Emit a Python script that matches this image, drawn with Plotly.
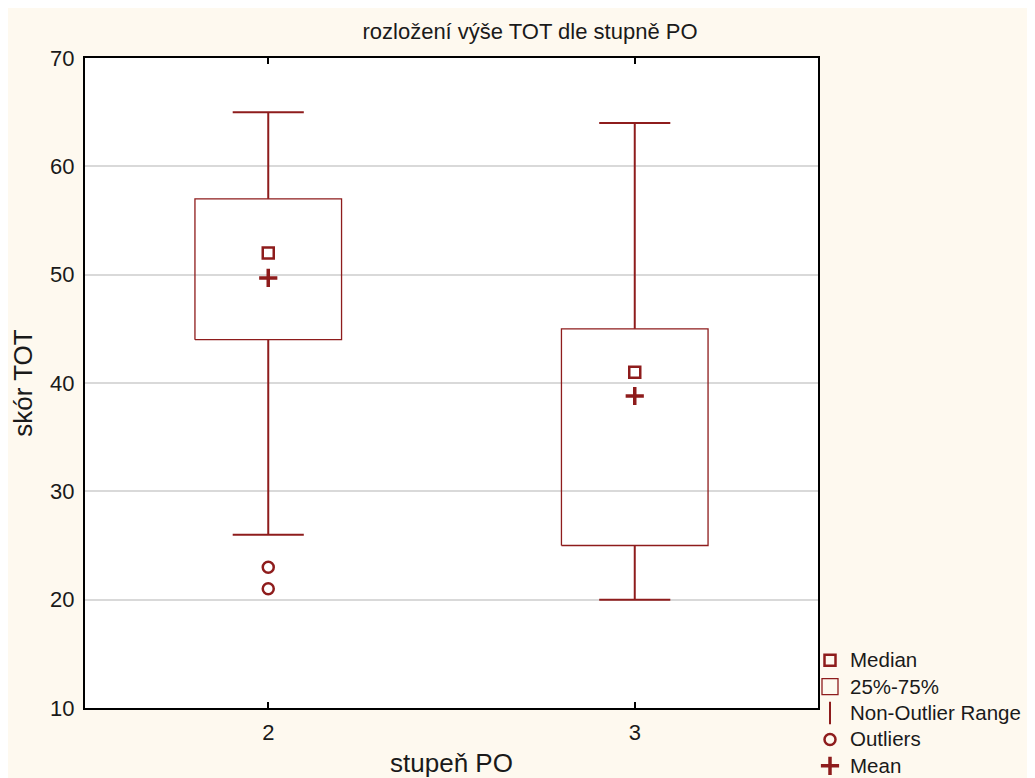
import plotly.graph_objects as go

# ---- data ----
categories = [2, 3]
q1 = [44, 25]
q3 = [57, 45]
medians = [52, 41]
means = [49.7, 38.8]
whisker_low = [26, 20]
whisker_high = [65, 64]
outlier_x = [2, 2]
outlier_y = [23, 21]
tick_labels = ["2", "3"]
legend_names = ["Median", "25%-75%", "Non-Outlier Range", "Outliers", "Mean"]

# ---- styles ----
RED = "#8E1C1C"
BOX_HALF = 0.2
CAP_HALF = 0.097


def big(t):
    return f"<span style='font-size:20.5px'>{t}</span>"


fig = go.Figure()

# boxes
bx, by = [], []
for c, a, b in zip(categories, q1, q3):
    bx += [c - BOX_HALF, c + BOX_HALF, c + BOX_HALF, c - BOX_HALF, c - BOX_HALF, None]
    by += [a, a, b, b, a, None]
fig.add_trace(go.Scatter(x=bx, y=by, mode="lines", line=dict(color=RED, width=1.3),
                         showlegend=False, hoverinfo="skip"))

# whiskers
wx, wy = [], []
for c, a, b, lo, hi in zip(categories, q1, q3, whisker_low, whisker_high):
    wx += [c, c, None, c, c, None, c - CAP_HALF, c + CAP_HALF, None, c - CAP_HALF, c + CAP_HALF, None]
    wy += [b, hi, None, a, lo, None, hi, hi, None, lo, lo, None]
fig.add_trace(go.Scatter(x=wx, y=wy, mode="lines", line=dict(color=RED, width=2),
                         showlegend=False, hoverinfo="skip"))

# medians
fig.add_trace(go.Scatter(x=categories, y=medians, mode="markers", name=big(legend_names[0]),
                         marker=dict(symbol="square-open", size=11, color=RED, line=dict(width=2.5))))
# legend-only box entry
fig.add_trace(go.Scatter(x=[None], y=[None], mode="markers", name=big(legend_names[1]),
                         marker=dict(symbol="square-open", size=19, color=RED, line=dict(width=1.3))))
# legend-only range entry
fig.add_trace(go.Scatter(x=[None], y=[None], mode="markers", name=big(legend_names[2]),
                         marker=dict(symbol="line-ns-open", size=20, color=RED, line=dict(width=2))))
# outliers
fig.add_trace(go.Scatter(x=outlier_x, y=outlier_y, mode="markers", name=big(legend_names[3]),
                         marker=dict(symbol="circle-open", size=11, color=RED, line=dict(width=2.5))))
# means
fig.add_trace(go.Scatter(x=categories, y=means, mode="markers", name=big(legend_names[4]),
                         marker=dict(symbol="cross-thin-open", size=13, color=RED, line=dict(width=3.5, color=RED))))

# page body has an 8px margin; figure sized to fit the window
W, H = 1027, 770
L, T = 77, 50
PW, PH = 733, 650
R, B = W - L - PW, H - T - PH

fig.update_layout(
    width=W, height=H,
    margin=dict(l=L, r=R, t=T, b=B, pad=0, autoexpand=False),
    paper_bgcolor="#FEF9EF",
    plot_bgcolor="white",
    font=dict(family="Liberation Sans, Arial, sans-serif", color="#1a1a1a", size=22),
    title=dict(text="rozložení výše TOT dle stupně PO", x=(530 - 8) / W, xanchor="center",
               y=1 - 23 / H, yanchor="middle", font=dict(size=22)),
    showlegend=True,
    legend=dict(x=(802 - L) / PW, y=(T + PH - 634) / PH, xanchor="left",
                yanchor="top", bgcolor="rgba(0,0,0,0)", font=dict(size=18),
                tracegroupgap=0, itemsizing="trace"),
    xaxis=dict(range=[1.5, 3.5], tickvals=categories, ticktext=tick_labels, showgrid=False,
               zeroline=False, showline=True, linecolor="black", linewidth=2, mirror="ticks",
               ticks="inside", ticklen=6, tickcolor="black", tickwidth=2, automargin=False,
               ticklabelstandoff=4,
               title=dict(text="stupeň PO", standoff=22), tickfont=dict(size=22)),
    yaxis=dict(range=[10, 70], dtick=10, showgrid=True, gridcolor="#D9D9D9", gridwidth=1.5,
               zeroline=False, showline=True, linecolor="black", linewidth=2, mirror=True,
               ticks="", automargin=False, ticklabelstandoff=4,
               title=dict(text="skór TOT", standoff=22), tickfont=dict(size=22)),
)

fig.write_html("out.html")
